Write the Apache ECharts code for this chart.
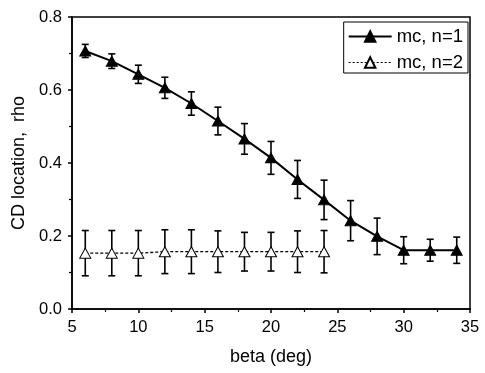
<!DOCTYPE html>
<html>
<head>
<meta charset="utf-8">
<script src="https://cdn.jsdelivr.net/npm/echarts@6/dist/echarts.min.js"></script>
<style>html,body{margin:0;padding:0;background:#fff}#c{width:485px;height:373px}</style>
</head>
<body>
<div id="c"></div>
<script>
var beta1 = [6, 8, 10, 12, 14, 16, 18, 20, 22, 24, 26, 28, 30, 32, 34];
var rho1 = [0.707, 0.679, 0.643, 0.606, 0.563, 0.515, 0.466, 0.414, 0.355, 0.299, 0.242, 0.199, 0.161, 0.161, 0.161];
var err1 = [0.018, 0.020, 0.025, 0.029, 0.032, 0.038, 0.042, 0.045, 0.052, 0.054, 0.055, 0.050, 0.037, 0.030, 0.036];
var beta2 = [6, 8, 10, 12, 14, 16, 18, 20, 22, 24];
var rho2 = [0.153, 0.153, 0.153, 0.157, 0.157, 0.157, 0.157, 0.157, 0.157, 0.157];
var err2 = [0.062, 0.062, 0.062, 0.060, 0.060, 0.057, 0.053, 0.053, 0.057, 0.058];
var name1 = 'mc, n=1';
var name2 = 'mc, n=2';

function errData(xs, ys, es) {
  return xs.map(function (x, i) { return [x, ys[i] - es[i], ys[i] + es[i]]; });
}
function errRender(params, api) {
  var x = api.value(0);
  var lo = api.coord([x, api.value(1)]);
  var hi = api.coord([x, api.value(2)]);
  var hw = 3.5;
  var st = { stroke: '#000', lineWidth: 1.6 };
  return {
    type: 'group',
    children: [
      { type: 'line', shape: { x1: lo[0], y1: lo[1], x2: hi[0], y2: hi[1] }, style: st },
      { type: 'line', shape: { x1: lo[0] - hw, y1: lo[1], x2: lo[0] + hw, y2: lo[1] }, style: st },
      { type: 'line', shape: { x1: hi[0] - hw, y1: hi[1], x2: hi[0] + hw, y2: hi[1] }, style: st }
    ]
  };
}
function pts(xs, ys) { return xs.map(function (x, i) { return [x, ys[i]]; }); }

var font = 'Liberation Sans, Arial, sans-serif';
var chart = echarts.init(document.getElementById('c'), null, { renderer: 'canvas' });
chart.setOption({
  animation: false,
  backgroundColor: '#fff',
  grid: { left: 72, right: 15, top: 17, bottom: 64, show: true, borderColor: '#000', borderWidth: 1.5, backgroundColor: 'transparent' },
  legend: {
    right: 17, top: 22,
    orient: 'vertical',
    backgroundColor: '#fff',
    borderColor: '#000', borderWidth: 1,
    padding: [5, 5, 1, 4],
    itemGap: 7,
    itemWidth: 43, itemHeight: 13,
    textStyle: { fontFamily: font, fontSize: 18.5, color: '#000', padding: [0, 0, 0, 0] },
    data: [
      { name: name1 },
      { name: name2, lineStyle: { type: [2, 2], width: 1.2 } }
    ]
  },
  xAxis: {
    type: 'value', min: 5, max: 35, interval: 5,
    name: 'beta (deg)', nameLocation: 'middle', nameGap: 39,
    nameTextStyle: { fontFamily: font, fontSize: 18, color: '#000' },
    axisLine: { show: true, lineStyle: { color: '#000', width: 1.5 } },
    axisTick: { show: true, inside: false, length: 4, lineStyle: { color: '#000', width: 1.5 } },
    minorTick: { show: true, splitNumber: 2, length: 3, lineStyle: { color: '#000', width: 1.2 } },
    axisLabel: { fontFamily: font, fontSize: 16.5, color: '#000', margin: 10 },
    splitLine: { show: false }
  },
  yAxis: {
    type: 'value', min: 0, max: 0.8, interval: 0.2,
    name: 'CD location,  rho', nameLocation: 'middle', nameGap: 41,
    nameTextStyle: { fontFamily: font, fontSize: 18, color: '#000' },
    axisLine: { show: true, lineStyle: { color: '#000', width: 1.5 } },
    axisTick: { show: true, inside: false, length: 4, lineStyle: { color: '#000', width: 1.5 } },
    minorTick: { show: true, splitNumber: 2, length: 3, lineStyle: { color: '#000', width: 1.2 } },
    axisLabel: { fontFamily: font, fontSize: 16.5, color: '#000', margin: 10, formatter: function (v) { return v.toFixed(1); } },
    splitLine: { show: false }
  },
  series: [
    { type: 'custom', name: 'err1', renderItem: errRender, data: errData(beta1, rho1, err1), z: 1, silent: true },
    { type: 'custom', name: 'err2', renderItem: errRender, data: errData(beta2, rho2, err2), z: 1, silent: true },
    {
      type: 'line', name: name1, data: pts(beta1, rho1), z: 3,
      symbol: 'triangle', symbolSize: [11, 10], showAllSymbol: true,
      lineStyle: { color: '#000', width: 2 },
      itemStyle: { color: '#000', borderColor: '#000', borderWidth: 1 }
    },
    {
      type: 'line', name: name2, data: pts(beta2, rho2), z: 3,
      symbol: 'triangle', symbolSize: [11, 10], showAllSymbol: true,
      lineStyle: { color: '#000', width: 1.3, type: [3, 2] },
      itemStyle: { color: '#fff', borderColor: '#000', borderWidth: 1 }
    }
  ]
});
</script>
</body>
</html>
